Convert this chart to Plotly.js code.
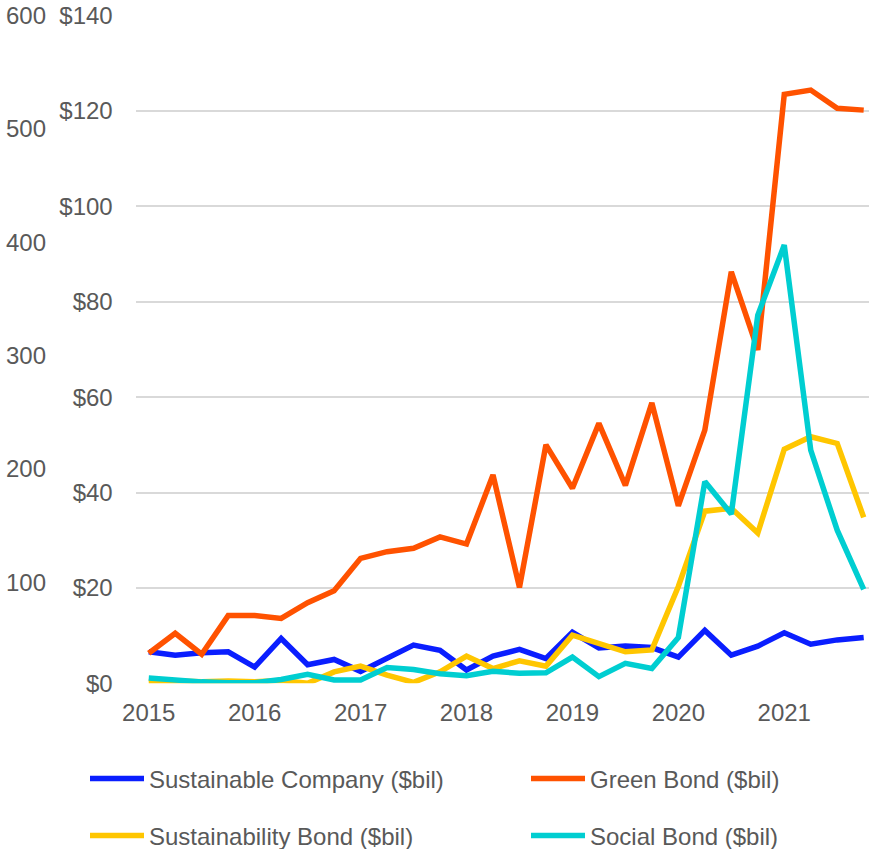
<!DOCTYPE html>
<html>
<head>
<meta charset="utf-8">
<script src="https://cdn.plot.ly/plotly-3.0.1.min.js"></script>
<style>html,body{margin:0;padding:0;background:#fff;}#chart{width:869px;height:849px;}</style>
</head>
<body>
<div id="chart"></div>
<script>
// Quarterly periods, 2015 Q1 .. 2021 Q4
var quarters = ["2015 Q1","2015 Q2","2015 Q3","2015 Q4","2016 Q1","2016 Q2","2016 Q3","2016 Q4",
  "2017 Q1","2017 Q2","2017 Q3","2017 Q4","2018 Q1","2018 Q2","2018 Q3","2018 Q4",
  "2019 Q1","2019 Q2","2019 Q3","2019 Q4","2020 Q1","2020 Q2","2020 Q3","2020 Q4",
  "2021 Q1","2021 Q2","2021 Q3","2021 Q4"];
var yearLabels = ["2015","2016","2017","2018","2019","2020","2021"];

var sustainableCompany = [6.6,5.9,6.4,6.6,3.4,9.4,3.9,5.0,2.5,5.3,8.0,6.9,2.8,5.7,7.1,5.2,10.7,7.4,7.8,7.5,5.5,11.1,5.9,7.8,10.6,8.2,9.1,9.6];
var greenBond = [6.3,10.5,6.1,14.2,14.2,13.6,16.9,19.4,26.2,27.6,28.3,30.7,29.2,43.7,20.1,50.0,40.9,54.5,41.5,58.8,37.2,53.1,86.3,69.9,123.5,124.4,120.6,120.2];
var sustainabilityBond = [0.2,0.5,0.3,0.5,0.3,0.6,0.0,2.4,3.6,1.7,0.2,2.4,5.7,3.1,4.7,3.6,10.1,8.3,6.6,7.0,20.3,36.1,36.7,31.5,49.1,51.7,50.3,34.8];
var socialBond = [1.1,0.6,0.3,0.1,0.1,0.8,1.9,0.7,0.7,3.3,2.9,2.0,1.6,2.5,2.1,2.2,5.5,1.4,4.2,3.1,9.6,42.3,35.5,77.2,91.9,48.9,32.1,19.7];

var seriesNames = ["Sustainable Company ($bil)","Green Bond ($bil)","Sustainability Bond ($bil)","Social Bond ($bil)"];
var leftTicks = [100,200,300,400,500,600];

var idx = quarters.map(function(q,i){return i;});
var yearTickVals = yearLabels.map(function(y){return quarters.indexOf(y+" Q1");});

var colors = ["#0A1EFF","#FF5200","#FFC600","#00CED1"];
var data = [sustainableCompany, greenBond, sustainabilityBond, socialBond];
var legendIds = ["legend","legend2","legend3","legend4"];

var traces = data.map(function(vals,k){
  return {
    x: idx, y: vals, type: "scatter", mode: "lines",
    name: seriesNames[k], text: quarters, hoverinfo: "text+y+name",
    line: {color: colors[k], width: 5.5, shape: "linear"},
    legend: legendIds[k]
  };
});
// empty carrier so the secondary (left) axis is drawn; it holds no marks
traces.push({x: [null], y: [null], yaxis: "y2", type: "scatter", mode: "lines",
  showlegend: false, hoverinfo: "skip"});

var W = 869, H = 849;
var plotLeft = 135.5, plotTop = 15.7, plotBottom = 683.3;
var font = {family: "Liberation Sans, Arial, sans-serif", size: 24, color: "#595959"};

var colX = [85, 526];
var rowY = [779, 836];
function legendAt(col, row){
  return {
    orientation: "v", x: colX[col]/W, xanchor: "left", y: (H-rowY[row])/H, yanchor: "middle",
    font: font, itemwidth: 54, bgcolor: "rgba(0,0,0,0)", borderwidth: 0
  };
}

var layout = {
  width: W, height: H,
  margin: {l:0, r:0, t:0, b:0, pad:0, autoexpand: false},
  paper_bgcolor: "#ffffff", plot_bgcolor: "#ffffff",
  font: font,
  showlegend: true,
  xaxis: {
    domain: [plotLeft/W, 1],
    range: [-0.5, 27.2],
    tickvals: yearTickVals, ticktext: yearLabels,
    showgrid: false, zeroline: false, showline: false,
    ticks: "outside", ticklen: 8, tickcolor: "rgba(0,0,0,0)",
    tickfont: font, fixedrange: true
  },
  yaxis: {
    domain: [(H-plotBottom)/H, (H-plotTop)/H],
    range: [0, 140], dtick: 20, tick0: 0, tickprefix: "$",
    showgrid: true, gridcolor: "#D9D9D9", gridwidth: 2,
    zeroline: false, showline: false,
    ticks: "outside", ticklen: 17, tickcolor: "rgba(0,0,0,0)",
    tickfont: font, fixedrange: true
  },
  yaxis2: {
    overlaying: "y", anchor: "free", side: "left", position: 46/W,
    range: [10.8, 600], tickvals: leftTicks,
    showgrid: false, zeroline: false, showline: false,
    ticks: "", tickfont: font, fixedrange: true
  },
  legend: legendAt(0,0),
  legend2: legendAt(1,0),
  legend3: legendAt(0,1),
  legend4: legendAt(1,1)
};

Plotly.newPlot("chart", traces, layout, {displayModeBar: false, staticPlot: true});
</script>
</body>
</html>
